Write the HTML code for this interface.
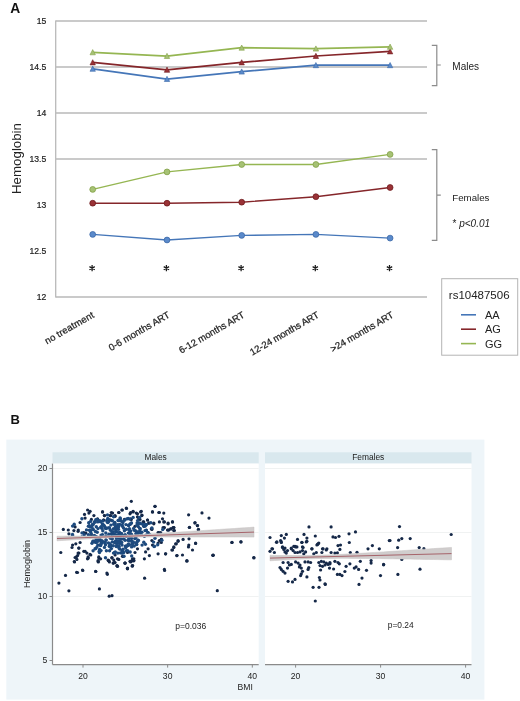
<!DOCTYPE html>
<html><head><meta charset="utf-8"><style>
html,body{margin:0;padding:0;background:#fff;}
svg{display:block;font-family:"Liberation Sans", sans-serif;will-change:transform;}
</style></head><body>
<svg width="520" height="701" viewBox="0 0 520 701">
<line x1="55.7" y1="159.0" x2="427" y2="159.0" stroke="#b9b9b9" stroke-width="1.3"/>
<line x1="55.7" y1="113" x2="427" y2="113" stroke="#b9b9b9" stroke-width="1.3"/>
<line x1="55.7" y1="67.0" x2="427" y2="67.0" stroke="#b9b9b9" stroke-width="1.3"/>
<line x1="55.7" y1="21" x2="427" y2="21" stroke="#b9b9b9" stroke-width="1.3"/>
<line x1="55.7" y1="20.4" x2="55.7" y2="297.6" stroke="#b9b9b9" stroke-width="1.3"/>
<line x1="55.7" y1="297" x2="427" y2="297" stroke="#b9b9b9" stroke-width="1.3"/>
<text x="46.3" y="24.1" text-anchor="end" font-size="8.6" fill="#222" stroke="#222" stroke-width="0.2">15</text>
<text x="46.3" y="70.1" text-anchor="end" font-size="8.6" fill="#222" stroke="#222" stroke-width="0.2">14.5</text>
<text x="46.3" y="116.1" text-anchor="end" font-size="8.6" fill="#222" stroke="#222" stroke-width="0.2">14</text>
<text x="46.3" y="162.1" text-anchor="end" font-size="8.6" fill="#222" stroke="#222" stroke-width="0.2">13.5</text>
<text x="46.3" y="208.1" text-anchor="end" font-size="8.6" fill="#222" stroke="#222" stroke-width="0.2">13</text>
<text x="46.3" y="254.1" text-anchor="end" font-size="8.6" fill="#222" stroke="#222" stroke-width="0.2">12.5</text>
<text x="46.3" y="300.1" text-anchor="end" font-size="8.6" fill="#222" stroke="#222" stroke-width="0.2">12</text>
<polyline points="92.7,68.8 167.0,79.0 241.7,71.6 315.9,65.2 390.1,65.2" fill="none" stroke="#4576b8" stroke-width="1.75"/>
<path d="M92.7,66.1 L95.4,71.3 L90.0,71.3Z" fill="#5a8acb" stroke="#3d6aa8" stroke-width="0.6"/>
<path d="M167.0,76.3 L169.7,81.5 L164.3,81.5Z" fill="#5a8acb" stroke="#3d6aa8" stroke-width="0.6"/>
<path d="M241.7,68.9 L244.4,74.1 L239.0,74.1Z" fill="#5a8acb" stroke="#3d6aa8" stroke-width="0.6"/>
<path d="M315.9,62.5 L318.6,67.7 L313.2,67.7Z" fill="#5a8acb" stroke="#3d6aa8" stroke-width="0.6"/>
<path d="M390.1,62.5 L392.8,67.7 L387.4,67.7Z" fill="#5a8acb" stroke="#3d6aa8" stroke-width="0.6"/>
<polyline points="92.7,62.4 167.0,69.8 241.7,62.4 315.9,56.0 390.1,51.4" fill="none" stroke="#85262a" stroke-width="1.75"/>
<path d="M92.7,59.7 L95.4,64.9 L90.0,64.9Z" fill="#9a3236" stroke="#6e1d20" stroke-width="0.6"/>
<path d="M167.0,67.1 L169.7,72.3 L164.3,72.3Z" fill="#9a3236" stroke="#6e1d20" stroke-width="0.6"/>
<path d="M241.7,59.7 L244.4,64.9 L239.0,64.9Z" fill="#9a3236" stroke="#6e1d20" stroke-width="0.6"/>
<path d="M315.9,53.3 L318.6,58.5 L313.2,58.5Z" fill="#9a3236" stroke="#6e1d20" stroke-width="0.6"/>
<path d="M390.1,48.7 L392.8,53.9 L387.4,53.9Z" fill="#9a3236" stroke="#6e1d20" stroke-width="0.6"/>
<polyline points="92.7,52.3 167.0,56.0 241.7,47.7 315.9,48.6 390.1,46.8" fill="none" stroke="#95b652" stroke-width="1.75"/>
<path d="M92.7,49.6 L95.4,54.8 L90.0,54.8Z" fill="#a6c274" stroke="#84a149" stroke-width="0.6"/>
<path d="M167.0,53.3 L169.7,58.5 L164.3,58.5Z" fill="#a6c274" stroke="#84a149" stroke-width="0.6"/>
<path d="M241.7,45.0 L244.4,50.2 L239.0,50.2Z" fill="#a6c274" stroke="#84a149" stroke-width="0.6"/>
<path d="M315.9,45.9 L318.6,51.1 L313.2,51.1Z" fill="#a6c274" stroke="#84a149" stroke-width="0.6"/>
<path d="M390.1,44.1 L392.8,49.3 L387.4,49.3Z" fill="#a6c274" stroke="#84a149" stroke-width="0.6"/>
<polyline points="92.7,234.4 167.0,240.0 241.7,235.4 315.9,234.4 390.1,238.1" fill="none" stroke="#4576b8" stroke-width="1.45"/>
<circle cx="92.7" cy="234.4" r="2.9" fill="#5a8acb" stroke="#3d6aa8" stroke-width="0.8"/>
<circle cx="167.0" cy="240.0" r="2.9" fill="#5a8acb" stroke="#3d6aa8" stroke-width="0.8"/>
<circle cx="241.7" cy="235.4" r="2.9" fill="#5a8acb" stroke="#3d6aa8" stroke-width="0.8"/>
<circle cx="315.9" cy="234.4" r="2.9" fill="#5a8acb" stroke="#3d6aa8" stroke-width="0.8"/>
<circle cx="390.1" cy="238.1" r="2.9" fill="#5a8acb" stroke="#3d6aa8" stroke-width="0.8"/>
<polyline points="92.7,203.2 167.0,203.2 241.7,202.2 315.9,196.7 390.1,187.5" fill="none" stroke="#85262a" stroke-width="1.45"/>
<circle cx="92.7" cy="203.2" r="2.9" fill="#9a3236" stroke="#6e1d20" stroke-width="0.8"/>
<circle cx="167.0" cy="203.2" r="2.9" fill="#9a3236" stroke="#6e1d20" stroke-width="0.8"/>
<circle cx="241.7" cy="202.2" r="2.9" fill="#9a3236" stroke="#6e1d20" stroke-width="0.8"/>
<circle cx="315.9" cy="196.7" r="2.9" fill="#9a3236" stroke="#6e1d20" stroke-width="0.8"/>
<circle cx="390.1" cy="187.5" r="2.9" fill="#9a3236" stroke="#6e1d20" stroke-width="0.8"/>
<polyline points="92.7,189.4 167.0,171.9 241.7,164.5 315.9,164.5 390.1,154.4" fill="none" stroke="#95b652" stroke-width="1.45"/>
<circle cx="92.7" cy="189.4" r="2.9" fill="#a6c274" stroke="#84a149" stroke-width="0.8"/>
<circle cx="167.0" cy="171.9" r="2.9" fill="#a6c274" stroke="#84a149" stroke-width="0.8"/>
<circle cx="241.7" cy="164.5" r="2.9" fill="#a6c274" stroke="#84a149" stroke-width="0.8"/>
<circle cx="315.9" cy="164.5" r="2.9" fill="#a6c274" stroke="#84a149" stroke-width="0.8"/>
<circle cx="390.1" cy="154.4" r="2.9" fill="#a6c274" stroke="#84a149" stroke-width="0.8"/>
<path d="M92.10000000000001,265.09999999999997 V271.3 M89.42,266.65 L94.78,269.75 M94.78,266.65 L89.42,269.75 " stroke="#1a1a1a" stroke-width="1.25" fill="none"/>
<path d="M166.4,265.09999999999997 V271.3 M163.72,266.65 L169.08,269.75 M169.08,266.65 L163.72,269.75 " stroke="#1a1a1a" stroke-width="1.25" fill="none"/>
<path d="M241.1,265.09999999999997 V271.3 M238.42,266.65 L243.78,269.75 M243.78,266.65 L238.42,269.75 " stroke="#1a1a1a" stroke-width="1.25" fill="none"/>
<path d="M315.29999999999995,265.09999999999997 V271.3 M312.62,266.65 L317.98,269.75 M317.98,266.65 L312.62,269.75 " stroke="#1a1a1a" stroke-width="1.25" fill="none"/>
<path d="M389.5,265.09999999999997 V271.3 M386.82,266.65 L392.18,269.75 M392.18,266.65 L386.82,269.75 " stroke="#1a1a1a" stroke-width="1.25" fill="none"/>
<text transform="translate(94.9,316.8) rotate(-30)" text-anchor="end" font-size="9.55" letter-spacing="0.15" fill="#1e1e1e" stroke="#1e1e1e" stroke-width="0.25">no treatment</text>
<text transform="translate(170.6,316.8) rotate(-30)" text-anchor="end" font-size="9.55" letter-spacing="0" fill="#1e1e1e" stroke="#1e1e1e" stroke-width="0.25">0-6 months ART</text>
<text transform="translate(245.39999999999998,316.8) rotate(-30)" text-anchor="end" font-size="9.55" letter-spacing="0" fill="#1e1e1e" stroke="#1e1e1e" stroke-width="0.25">6-12 months ART</text>
<text transform="translate(319.7,316.8) rotate(-30)" text-anchor="end" font-size="9.55" letter-spacing="-0.1" fill="#1e1e1e" stroke="#1e1e1e" stroke-width="0.25">12-24 months ART</text>
<text transform="translate(394.40000000000003,316.8) rotate(-30)" text-anchor="end" font-size="9.55" letter-spacing="0" fill="#1e1e1e" stroke="#1e1e1e" stroke-width="0.25">&gt;24 months ART</text>
<text transform="translate(20.6,158.5) rotate(-90)" text-anchor="middle" font-size="13.3" fill="#222">Hemoglobin</text>
<text x="10.3" y="12.7" font-size="13.8" font-weight="bold" fill="#111">A</text>
<path d="M431.8,45.3 H436.8 V85.6 H431.8 M436.8,65 H440.8" fill="none" stroke="#8c8c8c" stroke-width="1.2"/>
<path d="M431.8,149.6 H436.8 V240.4 H431.8 M436.8,195.2 H440.8" fill="none" stroke="#8c8c8c" stroke-width="1.2"/>
<text x="452.3" y="69.8" font-size="10" fill="#222">Males</text>
<text x="452.3" y="200.6" font-size="9.7" fill="#222">Females</text>
<text x="452.5" y="226.8" font-size="10" fill="#222">* <tspan font-style="italic">p&lt;0.01</tspan></text>
<rect x="441.7" y="278.7" width="76" height="76.5" fill="#fff" stroke="#b4b4b4" stroke-width="1"/>
<text x="448.8" y="299.3" font-size="11.5" fill="#222">rs10487506</text>
<line x1="461" y1="314.8" x2="476" y2="314.8" stroke="#4576b8" stroke-width="1.6"/>
<text x="485" y="318.7" font-size="11" fill="#222">AA</text>
<line x1="461" y1="329.2" x2="476" y2="329.2" stroke="#85262a" stroke-width="1.6"/>
<text x="485" y="333.09999999999997" font-size="11" fill="#222">AG</text>
<line x1="461" y1="343.6" x2="476" y2="343.6" stroke="#95b652" stroke-width="1.6"/>
<text x="485" y="347.5" font-size="11" fill="#222">GG</text>
<text x="10.5" y="424" font-size="13" font-weight="bold" fill="#111">B</text>
<rect x="6.3" y="439.6" width="478.1" height="260" fill="#eef5f9"/>
<rect x="52.5" y="452.3" width="206.2" height="11.2" fill="#d9e8ee"/>
<rect x="52.5" y="463.6" width="206.2" height="201.0" fill="#fff"/>
<line x1="52.5" y1="596.5" x2="258.7" y2="596.5" stroke="#f0f2f2" stroke-width="1"/>
<line x1="52.5" y1="532.5" x2="258.7" y2="532.5" stroke="#f0f2f2" stroke-width="1"/>
<line x1="52.5" y1="468.5" x2="258.7" y2="468.5" stroke="#f0f2f2" stroke-width="1"/>
<text x="155.6" y="460" text-anchor="middle" font-size="8.4" fill="#222">Males</text>
<line x1="52.5" y1="664.6" x2="258.7" y2="664.6" stroke="#8a8a8a" stroke-width="1.2"/>
<rect x="265.0" y="452.3" width="206.5" height="11.2" fill="#d9e8ee"/>
<rect x="265.0" y="463.6" width="206.5" height="201.0" fill="#fff"/>
<line x1="265.0" y1="596.5" x2="471.5" y2="596.5" stroke="#f0f2f2" stroke-width="1"/>
<line x1="265.0" y1="532.5" x2="471.5" y2="532.5" stroke="#f0f2f2" stroke-width="1"/>
<line x1="265.0" y1="468.5" x2="471.5" y2="468.5" stroke="#f0f2f2" stroke-width="1"/>
<text x="368.25" y="460" text-anchor="middle" font-size="8.4" fill="#222">Females</text>
<line x1="265.0" y1="664.6" x2="471.5" y2="664.6" stroke="#8a8a8a" stroke-width="1.2"/>
<line x1="52.5" y1="463.6" x2="52.5" y2="664.6" stroke="#8a8a8a" stroke-width="1.2"/>
<line x1="49.5" y1="660.5" x2="52.5" y2="660.5" stroke="#8a8a8a" stroke-width="1"/>
<text x="47.2" y="663.4" text-anchor="end" font-size="8.6" fill="#222">5</text>
<line x1="49.5" y1="596.5" x2="52.5" y2="596.5" stroke="#8a8a8a" stroke-width="1"/>
<text x="47.2" y="599.4" text-anchor="end" font-size="8.6" fill="#222">10</text>
<line x1="49.5" y1="532.5" x2="52.5" y2="532.5" stroke="#8a8a8a" stroke-width="1"/>
<text x="47.2" y="535.4" text-anchor="end" font-size="8.6" fill="#222">15</text>
<line x1="49.5" y1="468.5" x2="52.5" y2="468.5" stroke="#8a8a8a" stroke-width="1"/>
<text x="47.2" y="471.4" text-anchor="end" font-size="8.6" fill="#222">20</text>
<text transform="translate(29.6,564) rotate(-90)" text-anchor="middle" font-size="9" fill="#222">Hemoglobin</text>
<line x1="83.0" y1="664.6" x2="83.0" y2="667.6" stroke="#8a8a8a" stroke-width="1"/>
<text x="83.0" y="678.6" text-anchor="middle" font-size="8.6" fill="#222">20</text>
<line x1="167.65" y1="664.6" x2="167.65" y2="667.6" stroke="#8a8a8a" stroke-width="1"/>
<text x="167.65" y="678.6" text-anchor="middle" font-size="8.6" fill="#222">30</text>
<line x1="252.3" y1="664.6" x2="252.3" y2="667.6" stroke="#8a8a8a" stroke-width="1"/>
<text x="252.3" y="678.6" text-anchor="middle" font-size="8.6" fill="#222">40</text>
<line x1="295.6" y1="664.6" x2="295.6" y2="667.6" stroke="#8a8a8a" stroke-width="1"/>
<text x="295.6" y="678.6" text-anchor="middle" font-size="8.6" fill="#222">20</text>
<line x1="380.6" y1="664.6" x2="380.6" y2="667.6" stroke="#8a8a8a" stroke-width="1"/>
<text x="380.6" y="678.6" text-anchor="middle" font-size="8.6" fill="#222">30</text>
<line x1="465.6" y1="664.6" x2="465.6" y2="667.6" stroke="#8a8a8a" stroke-width="1"/>
<text x="465.6" y="678.6" text-anchor="middle" font-size="8.6" fill="#222">40</text>
<text x="245.2" y="689.6" text-anchor="middle" font-size="8.6" fill="#222">BMI</text>
<text x="175.3" y="628.5" font-size="8.5" fill="#222">p=0.036</text>
<text x="387.8" y="628.2" font-size="8.4" fill="#222">p=0.24</text>
<circle cx="131.3" cy="501.3" r="1.6" fill="#152848"/>
<circle cx="155.0" cy="506.3" r="1.6" fill="#152848"/>
<circle cx="118.8" cy="512.5" r="1.6" fill="#152848"/>
<circle cx="122.3" cy="510.0" r="1.6" fill="#152848"/>
<circle cx="126.5" cy="508.5" r="1.6" fill="#152848"/>
<circle cx="130.0" cy="513.8" r="1.6" fill="#152848"/>
<circle cx="133.1" cy="511.9" r="1.6" fill="#152848"/>
<circle cx="136.3" cy="513.1" r="1.6" fill="#152848"/>
<circle cx="140.6" cy="511.9" r="1.6" fill="#152848"/>
<circle cx="141.9" cy="515.0" r="1.6" fill="#152848"/>
<circle cx="152.5" cy="511.9" r="1.6" fill="#152848"/>
<circle cx="159.4" cy="512.5" r="1.6" fill="#152848"/>
<circle cx="163.8" cy="513.1" r="1.6" fill="#152848"/>
<circle cx="137.5" cy="516.9" r="1.6" fill="#152848"/>
<circle cx="140.0" cy="519.4" r="1.6" fill="#152848"/>
<circle cx="131.3" cy="519.4" r="1.6" fill="#152848"/>
<circle cx="124.4" cy="519.4" r="1.6" fill="#152848"/>
<circle cx="147.5" cy="520.0" r="1.6" fill="#152848"/>
<circle cx="162.5" cy="518.8" r="1.6" fill="#152848"/>
<circle cx="159.4" cy="521.9" r="1.6" fill="#152848"/>
<circle cx="153.8" cy="523.1" r="1.6" fill="#152848"/>
<circle cx="148.8" cy="523.1" r="1.6" fill="#152848"/>
<circle cx="164.4" cy="521.9" r="1.6" fill="#152848"/>
<circle cx="168.1" cy="523.1" r="1.6" fill="#152848"/>
<circle cx="172.5" cy="521.9" r="1.6" fill="#152848"/>
<circle cx="143.8" cy="521.9" r="1.6" fill="#152848"/>
<circle cx="131.3" cy="523.1" r="1.6" fill="#152848"/>
<circle cx="135.0" cy="526.3" r="1.6" fill="#152848"/>
<circle cx="143.8" cy="526.3" r="1.6" fill="#152848"/>
<circle cx="151.3" cy="528.8" r="1.6" fill="#152848"/>
<circle cx="146.3" cy="530.0" r="1.6" fill="#152848"/>
<circle cx="164.4" cy="527.5" r="1.6" fill="#152848"/>
<circle cx="167.5" cy="530.0" r="1.6" fill="#152848"/>
<circle cx="170.6" cy="528.8" r="1.6" fill="#152848"/>
<circle cx="173.8" cy="527.5" r="1.6" fill="#152848"/>
<circle cx="158.8" cy="532.5" r="1.6" fill="#152848"/>
<circle cx="87.6" cy="510.0" r="1.6" fill="#152848"/>
<circle cx="90.1" cy="511.3" r="1.6" fill="#152848"/>
<circle cx="88.9" cy="513.1" r="1.6" fill="#152848"/>
<circle cx="84.5" cy="514.4" r="1.6" fill="#152848"/>
<circle cx="102.6" cy="511.9" r="1.6" fill="#152848"/>
<circle cx="112.6" cy="513.1" r="1.6" fill="#152848"/>
<circle cx="93.9" cy="515.6" r="1.6" fill="#152848"/>
<circle cx="104.5" cy="515.6" r="1.6" fill="#152848"/>
<circle cx="110.8" cy="515.6" r="1.6" fill="#152848"/>
<circle cx="85.1" cy="518.1" r="1.6" fill="#152848"/>
<circle cx="91.4" cy="519.4" r="1.6" fill="#152848"/>
<circle cx="97.6" cy="519.4" r="1.6" fill="#152848"/>
<circle cx="103.3" cy="520.0" r="1.6" fill="#152848"/>
<circle cx="110.8" cy="520.0" r="1.6" fill="#152848"/>
<circle cx="115.1" cy="516.3" r="1.6" fill="#152848"/>
<circle cx="80.1" cy="522.5" r="1.6" fill="#152848"/>
<circle cx="75.1" cy="526.9" r="1.6" fill="#152848"/>
<circle cx="63.3" cy="529.4" r="1.6" fill="#152848"/>
<circle cx="68.3" cy="530.0" r="1.6" fill="#152848"/>
<circle cx="73.9" cy="530.6" r="1.6" fill="#152848"/>
<circle cx="78.3" cy="530.0" r="1.6" fill="#152848"/>
<circle cx="68.9" cy="533.8" r="1.6" fill="#152848"/>
<circle cx="188.6" cy="514.8" r="1.6" fill="#152848"/>
<circle cx="202.0" cy="512.9" r="1.6" fill="#152848"/>
<circle cx="209.0" cy="518.1" r="1.6" fill="#152848"/>
<circle cx="194.9" cy="523.1" r="1.6" fill="#152848"/>
<circle cx="197.4" cy="525.6" r="1.6" fill="#152848"/>
<circle cx="189.5" cy="527.3" r="1.6" fill="#152848"/>
<circle cx="198.3" cy="529.8" r="1.6" fill="#152848"/>
<circle cx="253.8" cy="557.5" r="1.6" fill="#152848"/>
<circle cx="213.1" cy="555.3" r="1.6" fill="#152848"/>
<circle cx="231.9" cy="542.5" r="1.6" fill="#152848"/>
<circle cx="241.0" cy="541.9" r="1.6" fill="#152848"/>
<circle cx="195.6" cy="543.5" r="1.6" fill="#152848"/>
<circle cx="85.8" cy="533.1" r="1.6" fill="#152848"/>
<circle cx="90.8" cy="535.6" r="1.6" fill="#152848"/>
<circle cx="72.6" cy="545.0" r="1.6" fill="#152848"/>
<circle cx="72.0" cy="547.5" r="1.6" fill="#152848"/>
<circle cx="75.8" cy="543.8" r="1.6" fill="#152848"/>
<circle cx="60.8" cy="552.5" r="1.6" fill="#152848"/>
<circle cx="78.9" cy="548.1" r="1.6" fill="#152848"/>
<circle cx="80.1" cy="542.5" r="1.6" fill="#152848"/>
<circle cx="85.1" cy="551.3" r="1.6" fill="#152848"/>
<circle cx="78.9" cy="553.1" r="1.6" fill="#152848"/>
<circle cx="75.1" cy="557.5" r="1.6" fill="#152848"/>
<circle cx="77.6" cy="555.6" r="1.6" fill="#152848"/>
<circle cx="74.5" cy="561.9" r="1.6" fill="#152848"/>
<circle cx="88.3" cy="558.1" r="1.6" fill="#152848"/>
<circle cx="90.8" cy="555.0" r="1.6" fill="#152848"/>
<circle cx="98.9" cy="558.1" r="1.6" fill="#152848"/>
<circle cx="98.3" cy="561.9" r="1.6" fill="#152848"/>
<circle cx="108.3" cy="560.6" r="1.6" fill="#152848"/>
<circle cx="112.0" cy="558.1" r="1.6" fill="#152848"/>
<circle cx="114.5" cy="562.5" r="1.6" fill="#152848"/>
<circle cx="115.1" cy="555.0" r="1.6" fill="#152848"/>
<circle cx="151.9" cy="528.8" r="1.6" fill="#152848"/>
<circle cx="148.1" cy="532.5" r="1.6" fill="#152848"/>
<circle cx="158.1" cy="532.5" r="1.6" fill="#152848"/>
<circle cx="163.1" cy="527.5" r="1.6" fill="#152848"/>
<circle cx="168.8" cy="530.0" r="1.6" fill="#152848"/>
<circle cx="173.1" cy="527.5" r="1.6" fill="#152848"/>
<circle cx="173.8" cy="530.6" r="1.6" fill="#152848"/>
<circle cx="159.4" cy="540.6" r="1.6" fill="#152848"/>
<circle cx="161.3" cy="539.4" r="1.6" fill="#152848"/>
<circle cx="158.1" cy="543.1" r="1.6" fill="#152848"/>
<circle cx="151.9" cy="540.6" r="1.6" fill="#152848"/>
<circle cx="152.5" cy="545.0" r="1.6" fill="#152848"/>
<circle cx="178.1" cy="540.6" r="1.6" fill="#152848"/>
<circle cx="176.3" cy="543.8" r="1.6" fill="#152848"/>
<circle cx="173.8" cy="547.5" r="1.6" fill="#152848"/>
<circle cx="171.9" cy="550.0" r="1.6" fill="#152848"/>
<circle cx="148.1" cy="548.8" r="1.6" fill="#152848"/>
<circle cx="145.6" cy="551.9" r="1.6" fill="#152848"/>
<circle cx="149.4" cy="555.6" r="1.6" fill="#152848"/>
<circle cx="158.1" cy="553.8" r="1.6" fill="#152848"/>
<circle cx="165.6" cy="553.8" r="1.6" fill="#152848"/>
<circle cx="176.9" cy="555.6" r="1.6" fill="#152848"/>
<circle cx="144.4" cy="558.8" r="1.6" fill="#152848"/>
<circle cx="133.8" cy="558.8" r="1.6" fill="#152848"/>
<circle cx="131.9" cy="560.6" r="1.6" fill="#152848"/>
<circle cx="130.6" cy="561.9" r="1.6" fill="#152848"/>
<circle cx="127.5" cy="552.5" r="1.6" fill="#152848"/>
<circle cx="122.5" cy="556.3" r="1.6" fill="#152848"/>
<circle cx="117.5" cy="558.8" r="1.6" fill="#152848"/>
<circle cx="125.0" cy="563.1" r="1.6" fill="#152848"/>
<circle cx="132.5" cy="565.6" r="1.6" fill="#152848"/>
<circle cx="127.5" cy="568.1" r="1.6" fill="#152848"/>
<circle cx="116.9" cy="565.6" r="1.6" fill="#152848"/>
<circle cx="164.4" cy="569.4" r="1.6" fill="#152848"/>
<circle cx="163.8" cy="521.9" r="1.6" fill="#152848"/>
<circle cx="168.1" cy="523.8" r="1.6" fill="#152848"/>
<circle cx="172.5" cy="521.9" r="1.6" fill="#152848"/>
<circle cx="163.8" cy="528.1" r="1.6" fill="#152848"/>
<circle cx="168.1" cy="530.0" r="1.6" fill="#152848"/>
<circle cx="171.3" cy="528.8" r="1.6" fill="#152848"/>
<circle cx="173.8" cy="527.5" r="1.6" fill="#152848"/>
<circle cx="174.4" cy="530.6" r="1.6" fill="#152848"/>
<circle cx="189.4" cy="527.5" r="1.6" fill="#152848"/>
<circle cx="195.0" cy="522.5" r="1.6" fill="#152848"/>
<circle cx="197.5" cy="525.6" r="1.6" fill="#152848"/>
<circle cx="198.5" cy="529.4" r="1.6" fill="#152848"/>
<circle cx="160.6" cy="532.5" r="1.6" fill="#152848"/>
<circle cx="161.3" cy="539.4" r="1.6" fill="#152848"/>
<circle cx="161.3" cy="542.5" r="1.6" fill="#152848"/>
<circle cx="183.1" cy="539.4" r="1.6" fill="#152848"/>
<circle cx="189.0" cy="538.8" r="1.6" fill="#152848"/>
<circle cx="178.1" cy="541.3" r="1.6" fill="#152848"/>
<circle cx="175.6" cy="543.8" r="1.6" fill="#152848"/>
<circle cx="195.6" cy="543.1" r="1.6" fill="#152848"/>
<circle cx="188.8" cy="545.0" r="1.6" fill="#152848"/>
<circle cx="188.5" cy="546.9" r="1.6" fill="#152848"/>
<circle cx="173.8" cy="546.9" r="1.6" fill="#152848"/>
<circle cx="172.5" cy="550.0" r="1.6" fill="#152848"/>
<circle cx="192.5" cy="550.0" r="1.6" fill="#152848"/>
<circle cx="165.6" cy="553.8" r="1.6" fill="#152848"/>
<circle cx="176.9" cy="555.6" r="1.6" fill="#152848"/>
<circle cx="182.5" cy="555.0" r="1.6" fill="#152848"/>
<circle cx="186.9" cy="560.6" r="1.6" fill="#152848"/>
<circle cx="213.1" cy="555.0" r="1.6" fill="#152848"/>
<circle cx="74.3" cy="561.5" r="1.6" fill="#152848"/>
<circle cx="98.2" cy="561.5" r="1.6" fill="#152848"/>
<circle cx="108.9" cy="560.8" r="1.6" fill="#152848"/>
<circle cx="113.5" cy="563.1" r="1.6" fill="#152848"/>
<circle cx="117.4" cy="566.2" r="1.6" fill="#152848"/>
<circle cx="125.1" cy="563.1" r="1.6" fill="#152848"/>
<circle cx="127.4" cy="568.5" r="1.6" fill="#152848"/>
<circle cx="131.2" cy="561.5" r="1.6" fill="#152848"/>
<circle cx="65.5" cy="575.4" r="1.6" fill="#152848"/>
<circle cx="76.6" cy="572.3" r="1.6" fill="#152848"/>
<circle cx="82.8" cy="570.5" r="1.6" fill="#152848"/>
<circle cx="95.8" cy="571.5" r="1.6" fill="#152848"/>
<circle cx="107.4" cy="574.3" r="1.6" fill="#152848"/>
<circle cx="58.9" cy="583.1" r="1.6" fill="#152848"/>
<circle cx="68.9" cy="590.8" r="1.6" fill="#152848"/>
<circle cx="99.4" cy="588.9" r="1.6" fill="#152848"/>
<circle cx="109.2" cy="596.2" r="1.6" fill="#152848"/>
<circle cx="112.0" cy="595.7" r="1.6" fill="#152848"/>
<circle cx="132.3" cy="566.2" r="1.6" fill="#152848"/>
<circle cx="133.8" cy="560.8" r="1.6" fill="#152848"/>
<circle cx="164.6" cy="570.5" r="1.6" fill="#152848"/>
<circle cx="144.6" cy="578.2" r="1.6" fill="#152848"/>
<circle cx="186.9" cy="561.2" r="1.6" fill="#152848"/>
<circle cx="232.0" cy="542.4" r="1.6" fill="#152848"/>
<circle cx="240.9" cy="541.8" r="1.6" fill="#152848"/>
<circle cx="212.9" cy="555.3" r="1.6" fill="#152848"/>
<circle cx="253.9" cy="557.9" r="1.6" fill="#152848"/>
<circle cx="217.3" cy="590.7" r="1.6" fill="#152848"/>
<circle cx="102.5" cy="511.9" r="1.6" fill="#152848"/>
<circle cx="104.4" cy="515.6" r="1.6" fill="#152848"/>
<circle cx="111.3" cy="512.5" r="1.6" fill="#152848"/>
<circle cx="110.0" cy="515.6" r="1.6" fill="#152848"/>
<circle cx="118.8" cy="512.5" r="1.6" fill="#152848"/>
<circle cx="121.9" cy="510.0" r="1.6" fill="#152848"/>
<circle cx="126.3" cy="508.1" r="1.6" fill="#152848"/>
<circle cx="115.0" cy="515.6" r="1.6" fill="#152848"/>
<circle cx="97.5" cy="518.8" r="1.6" fill="#152848"/>
<circle cx="103.8" cy="520.0" r="1.6" fill="#152848"/>
<circle cx="130.6" cy="512.5" r="1.6" fill="#152848"/>
<circle cx="133.1" cy="511.3" r="1.6" fill="#152848"/>
<circle cx="137.5" cy="513.8" r="1.6" fill="#152848"/>
<circle cx="141.3" cy="511.3" r="1.6" fill="#152848"/>
<circle cx="141.9" cy="515.6" r="1.6" fill="#152848"/>
<circle cx="138.8" cy="518.8" r="1.6" fill="#152848"/>
<circle cx="130.6" cy="518.8" r="1.6" fill="#152848"/>
<circle cx="152.5" cy="511.9" r="1.6" fill="#152848"/>
<circle cx="155.0" cy="506.3" r="1.6" fill="#152848"/>
<circle cx="158.8" cy="512.5" r="1.6" fill="#152848"/>
<circle cx="147.5" cy="520.0" r="1.6" fill="#152848"/>
<circle cx="153.8" cy="523.8" r="1.6" fill="#152848"/>
<circle cx="148.8" cy="523.1" r="1.6" fill="#152848"/>
<circle cx="143.1" cy="521.9" r="1.6" fill="#152848"/>
<circle cx="151.9" cy="529.4" r="1.6" fill="#152848"/>
<circle cx="78.8" cy="548.1" r="1.6" fill="#152848"/>
<circle cx="78.1" cy="553.1" r="1.6" fill="#152848"/>
<circle cx="76.3" cy="556.9" r="1.6" fill="#152848"/>
<circle cx="76.9" cy="559.4" r="1.6" fill="#152848"/>
<circle cx="83.8" cy="551.3" r="1.6" fill="#152848"/>
<circle cx="86.9" cy="553.1" r="1.6" fill="#152848"/>
<circle cx="90.0" cy="554.4" r="1.6" fill="#152848"/>
<circle cx="87.5" cy="558.8" r="1.6" fill="#152848"/>
<circle cx="88.1" cy="556.9" r="1.6" fill="#152848"/>
<circle cx="98.8" cy="556.9" r="1.6" fill="#152848"/>
<circle cx="100.6" cy="558.8" r="1.6" fill="#152848"/>
<circle cx="98.1" cy="560.6" r="1.6" fill="#152848"/>
<circle cx="108.1" cy="560.0" r="1.6" fill="#152848"/>
<circle cx="109.4" cy="561.9" r="1.6" fill="#152848"/>
<circle cx="111.9" cy="557.5" r="1.6" fill="#152848"/>
<circle cx="113.8" cy="560.0" r="1.6" fill="#152848"/>
<circle cx="113.1" cy="563.1" r="1.6" fill="#152848"/>
<circle cx="115.0" cy="562.5" r="1.6" fill="#152848"/>
<circle cx="117.5" cy="566.3" r="1.6" fill="#152848"/>
<circle cx="118.8" cy="559.4" r="1.6" fill="#152848"/>
<circle cx="123.1" cy="556.3" r="1.6" fill="#152848"/>
<circle cx="125.0" cy="563.1" r="1.6" fill="#152848"/>
<circle cx="127.5" cy="568.8" r="1.6" fill="#152848"/>
<circle cx="130.0" cy="561.3" r="1.6" fill="#152848"/>
<circle cx="132.5" cy="558.8" r="1.6" fill="#152848"/>
<circle cx="133.8" cy="560.6" r="1.6" fill="#152848"/>
<circle cx="132.5" cy="565.6" r="1.6" fill="#152848"/>
<circle cx="77.5" cy="572.5" r="1.6" fill="#152848"/>
<circle cx="82.5" cy="570.0" r="1.6" fill="#152848"/>
<circle cx="95.6" cy="571.3" r="1.6" fill="#152848"/>
<circle cx="106.9" cy="573.1" r="1.6" fill="#152848"/>
<circle cx="137.5" cy="548.8" r="1.6" fill="#152848"/>
<circle cx="135.0" cy="552.5" r="1.6" fill="#152848"/>
<circle cx="78.1" cy="531.3" r="1.6" fill="#152848"/>
<circle cx="83.8" cy="532.5" r="1.6" fill="#152848"/>
<circle cx="91.3" cy="535.0" r="1.6" fill="#152848"/>
<circle cx="106.8" cy="520.4" r="1.7" fill="#1d4a7e"/>
<circle cx="126.7" cy="518.9" r="1.7" fill="#1d4a7e"/>
<circle cx="119.7" cy="524.4" r="1.7" fill="#1d4a7e"/>
<circle cx="90.5" cy="527.1" r="1.7" fill="#1d4a7e"/>
<circle cx="89.3" cy="525.7" r="1.7" fill="#1d4a7e"/>
<circle cx="112.9" cy="533.2" r="1.7" fill="#1d4a7e"/>
<circle cx="94.6" cy="521.7" r="1.7" fill="#1d4a7e"/>
<circle cx="125.3" cy="535.5" r="1.7" fill="#1d4a7e"/>
<circle cx="122.2" cy="525.0" r="1.7" fill="#1d4a7e"/>
<circle cx="139.4" cy="523.0" r="1.7" fill="#1d4a7e"/>
<circle cx="95.8" cy="519.7" r="1.7" fill="#1d4a7e"/>
<circle cx="105.8" cy="533.0" r="1.7" fill="#1d4a7e"/>
<circle cx="98.0" cy="528.6" r="1.7" fill="#1d4a7e"/>
<circle cx="126.0" cy="524.6" r="1.7" fill="#1d4a7e"/>
<circle cx="120.4" cy="518.7" r="1.7" fill="#1d4a7e"/>
<circle cx="90.6" cy="521.4" r="1.7" fill="#1d4a7e"/>
<circle cx="128.5" cy="525.6" r="1.7" fill="#1d4a7e"/>
<circle cx="106.2" cy="528.6" r="1.7" fill="#1d4a7e"/>
<circle cx="114.6" cy="523.2" r="1.7" fill="#1d4a7e"/>
<circle cx="135.5" cy="530.8" r="1.7" fill="#1d4a7e"/>
<circle cx="101.9" cy="528.4" r="1.7" fill="#1d4a7e"/>
<circle cx="119.0" cy="534.1" r="1.7" fill="#1d4a7e"/>
<circle cx="131.5" cy="523.0" r="1.7" fill="#1d4a7e"/>
<circle cx="112.5" cy="531.9" r="1.7" fill="#1d4a7e"/>
<circle cx="96.3" cy="526.8" r="1.7" fill="#1d4a7e"/>
<circle cx="89.4" cy="530.2" r="1.7" fill="#1d4a7e"/>
<circle cx="133.6" cy="528.4" r="1.7" fill="#1d4a7e"/>
<circle cx="140.4" cy="523.5" r="1.7" fill="#1d4a7e"/>
<circle cx="129.4" cy="528.8" r="1.7" fill="#1d4a7e"/>
<circle cx="122.4" cy="526.2" r="1.7" fill="#1d4a7e"/>
<circle cx="138.2" cy="535.4" r="1.7" fill="#1d4a7e"/>
<circle cx="115.9" cy="530.1" r="1.7" fill="#1d4a7e"/>
<circle cx="90.7" cy="530.8" r="1.7" fill="#1d4a7e"/>
<circle cx="126.5" cy="536.4" r="1.7" fill="#1d4a7e"/>
<circle cx="137.1" cy="522.9" r="1.7" fill="#1d4a7e"/>
<circle cx="110.5" cy="530.2" r="1.7" fill="#1d4a7e"/>
<circle cx="88.4" cy="526.3" r="1.7" fill="#1d4a7e"/>
<circle cx="97.3" cy="519.7" r="1.7" fill="#1d4a7e"/>
<circle cx="90.6" cy="532.1" r="1.7" fill="#1d4a7e"/>
<circle cx="94.9" cy="522.2" r="1.7" fill="#1d4a7e"/>
<circle cx="110.8" cy="534.1" r="1.7" fill="#1d4a7e"/>
<circle cx="91.9" cy="526.0" r="1.7" fill="#1d4a7e"/>
<circle cx="120.5" cy="534.3" r="1.7" fill="#1d4a7e"/>
<circle cx="137.0" cy="533.9" r="1.7" fill="#1d4a7e"/>
<circle cx="104.0" cy="525.4" r="1.7" fill="#1d4a7e"/>
<circle cx="108.9" cy="534.3" r="1.7" fill="#1d4a7e"/>
<circle cx="97.7" cy="521.9" r="1.7" fill="#1d4a7e"/>
<circle cx="101.2" cy="526.7" r="1.7" fill="#1d4a7e"/>
<circle cx="122.9" cy="522.5" r="1.7" fill="#1d4a7e"/>
<circle cx="109.5" cy="528.3" r="1.7" fill="#1d4a7e"/>
<circle cx="145.1" cy="530.6" r="1.7" fill="#1d4a7e"/>
<circle cx="118.4" cy="529.2" r="1.7" fill="#1d4a7e"/>
<circle cx="128.2" cy="518.5" r="1.7" fill="#1d4a7e"/>
<circle cx="141.9" cy="532.3" r="1.7" fill="#1d4a7e"/>
<circle cx="140.3" cy="532.7" r="1.7" fill="#1d4a7e"/>
<circle cx="110.9" cy="525.1" r="1.7" fill="#1d4a7e"/>
<circle cx="93.3" cy="529.6" r="1.7" fill="#1d4a7e"/>
<circle cx="99.7" cy="520.6" r="1.7" fill="#1d4a7e"/>
<circle cx="107.7" cy="518.5" r="1.7" fill="#1d4a7e"/>
<circle cx="93.2" cy="524.4" r="1.7" fill="#1d4a7e"/>
<circle cx="124.5" cy="520.3" r="1.7" fill="#1d4a7e"/>
<circle cx="102.4" cy="524.1" r="1.7" fill="#1d4a7e"/>
<circle cx="109.2" cy="519.8" r="1.7" fill="#1d4a7e"/>
<circle cx="115.4" cy="526.7" r="1.7" fill="#1d4a7e"/>
<circle cx="107.9" cy="522.5" r="1.7" fill="#1d4a7e"/>
<circle cx="137.6" cy="520.6" r="1.7" fill="#1d4a7e"/>
<circle cx="119.2" cy="520.3" r="1.7" fill="#1d4a7e"/>
<circle cx="120.1" cy="518.0" r="1.7" fill="#1d4a7e"/>
<circle cx="119.2" cy="536.1" r="1.7" fill="#1d4a7e"/>
<circle cx="139.7" cy="530.7" r="1.7" fill="#1d4a7e"/>
<circle cx="102.9" cy="524.5" r="1.7" fill="#1d4a7e"/>
<circle cx="97.2" cy="532.2" r="1.7" fill="#1d4a7e"/>
<circle cx="119.5" cy="532.3" r="1.7" fill="#1d4a7e"/>
<circle cx="107.1" cy="521.7" r="1.7" fill="#1d4a7e"/>
<circle cx="139.0" cy="532.8" r="1.7" fill="#1d4a7e"/>
<circle cx="136.9" cy="531.6" r="1.7" fill="#1d4a7e"/>
<circle cx="100.8" cy="527.3" r="1.7" fill="#1d4a7e"/>
<circle cx="88.7" cy="522.8" r="1.7" fill="#1d4a7e"/>
<circle cx="102.8" cy="530.7" r="1.7" fill="#1d4a7e"/>
<circle cx="145.3" cy="526.0" r="1.7" fill="#1d4a7e"/>
<circle cx="145.3" cy="524.4" r="1.7" fill="#1d4a7e"/>
<circle cx="100.4" cy="521.8" r="1.7" fill="#1d4a7e"/>
<circle cx="99.0" cy="521.4" r="1.7" fill="#1d4a7e"/>
<circle cx="125.1" cy="534.6" r="1.7" fill="#1d4a7e"/>
<circle cx="138.3" cy="526.6" r="1.7" fill="#1d4a7e"/>
<circle cx="127.6" cy="550.8" r="1.7" fill="#1d4a7e"/>
<circle cx="95.7" cy="548.6" r="1.7" fill="#1d4a7e"/>
<circle cx="133.0" cy="545.6" r="1.7" fill="#1d4a7e"/>
<circle cx="101.0" cy="550.6" r="1.7" fill="#1d4a7e"/>
<circle cx="109.6" cy="550.8" r="1.7" fill="#1d4a7e"/>
<circle cx="145.4" cy="544.3" r="1.7" fill="#1d4a7e"/>
<circle cx="113.5" cy="553.1" r="1.7" fill="#1d4a7e"/>
<circle cx="131.6" cy="540.7" r="1.7" fill="#1d4a7e"/>
<circle cx="98.1" cy="540.4" r="1.7" fill="#1d4a7e"/>
<circle cx="99.2" cy="551.2" r="1.7" fill="#1d4a7e"/>
<circle cx="110.6" cy="546.8" r="1.7" fill="#1d4a7e"/>
<circle cx="98.3" cy="538.2" r="1.7" fill="#1d4a7e"/>
<circle cx="120.5" cy="552.9" r="1.7" fill="#1d4a7e"/>
<circle cx="115.3" cy="551.9" r="1.7" fill="#1d4a7e"/>
<circle cx="137.3" cy="541.4" r="1.7" fill="#1d4a7e"/>
<circle cx="105.1" cy="542.7" r="1.7" fill="#1d4a7e"/>
<circle cx="104.5" cy="547.4" r="1.7" fill="#1d4a7e"/>
<circle cx="105.5" cy="544.7" r="1.7" fill="#1d4a7e"/>
<circle cx="110.8" cy="545.3" r="1.7" fill="#1d4a7e"/>
<circle cx="123.7" cy="552.5" r="1.7" fill="#1d4a7e"/>
<circle cx="114.6" cy="552.7" r="1.7" fill="#1d4a7e"/>
<circle cx="119.1" cy="546.5" r="1.7" fill="#1d4a7e"/>
<circle cx="120.3" cy="538.3" r="1.7" fill="#1d4a7e"/>
<circle cx="115.6" cy="540.9" r="1.7" fill="#1d4a7e"/>
<circle cx="100.7" cy="545.6" r="1.7" fill="#1d4a7e"/>
<circle cx="131.6" cy="546.9" r="1.7" fill="#1d4a7e"/>
<circle cx="109.3" cy="546.3" r="1.7" fill="#1d4a7e"/>
<circle cx="122.1" cy="550.5" r="1.7" fill="#1d4a7e"/>
<circle cx="96.9" cy="547.0" r="1.7" fill="#1d4a7e"/>
<circle cx="104.9" cy="542.4" r="1.7" fill="#1d4a7e"/>
<circle cx="134.2" cy="546.1" r="1.7" fill="#1d4a7e"/>
<circle cx="122.5" cy="550.2" r="1.7" fill="#1d4a7e"/>
<circle cx="142.1" cy="545.1" r="1.7" fill="#1d4a7e"/>
<circle cx="125.3" cy="546.1" r="1.7" fill="#1d4a7e"/>
<circle cx="119.7" cy="549.1" r="1.7" fill="#1d4a7e"/>
<circle cx="116.3" cy="546.5" r="1.7" fill="#1d4a7e"/>
<circle cx="117.8" cy="553.1" r="1.7" fill="#1d4a7e"/>
<circle cx="130.2" cy="552.0" r="1.7" fill="#1d4a7e"/>
<circle cx="143.8" cy="542.2" r="1.7" fill="#1d4a7e"/>
<circle cx="122.3" cy="553.1" r="1.7" fill="#1d4a7e"/>
<circle cx="138.0" cy="540.2" r="1.7" fill="#1d4a7e"/>
<circle cx="97.8" cy="545.1" r="1.7" fill="#1d4a7e"/>
<circle cx="95.1" cy="541.9" r="1.7" fill="#1d4a7e"/>
<circle cx="95.1" cy="548.7" r="1.7" fill="#1d4a7e"/>
<circle cx="99.6" cy="549.5" r="1.7" fill="#1d4a7e"/>
<circle cx="128.0" cy="540.3" r="1.7" fill="#1d4a7e"/>
<circle cx="113.3" cy="545.8" r="1.7" fill="#1d4a7e"/>
<circle cx="100.0" cy="544.9" r="1.7" fill="#1d4a7e"/>
<circle cx="119.9" cy="543.4" r="1.7" fill="#1d4a7e"/>
<circle cx="102.0" cy="543.1" r="1.7" fill="#1d4a7e"/>
<circle cx="131.4" cy="538.3" r="1.7" fill="#1d4a7e"/>
<circle cx="122.0" cy="545.0" r="1.7" fill="#1d4a7e"/>
<circle cx="92.0" cy="543.3" r="1.7" fill="#1d4a7e"/>
<circle cx="125.9" cy="546.2" r="1.7" fill="#1d4a7e"/>
<circle cx="96.9" cy="542.2" r="1.7" fill="#1d4a7e"/>
<circle cx="106.1" cy="540.1" r="1.7" fill="#1d4a7e"/>
<circle cx="114.6" cy="552.6" r="1.7" fill="#1d4a7e"/>
<circle cx="136.9" cy="542.1" r="1.7" fill="#1d4a7e"/>
<circle cx="123.0" cy="549.2" r="1.7" fill="#1d4a7e"/>
<circle cx="96.0" cy="538.9" r="1.7" fill="#1d4a7e"/>
<circle cx="129.5" cy="544.8" r="1.7" fill="#1d4a7e"/>
<circle cx="126.5" cy="550.8" r="1.7" fill="#1d4a7e"/>
<circle cx="116.4" cy="543.4" r="1.7" fill="#1d4a7e"/>
<circle cx="122.0" cy="552.8" r="1.7" fill="#1d4a7e"/>
<circle cx="106.0" cy="540.1" r="1.7" fill="#1d4a7e"/>
<circle cx="120.5" cy="541.8" r="1.7" fill="#1d4a7e"/>
<circle cx="97.1" cy="540.6" r="1.7" fill="#1d4a7e"/>
<circle cx="93.8" cy="541.2" r="1.7" fill="#1d4a7e"/>
<circle cx="108.5" cy="542.9" r="1.7" fill="#1d4a7e"/>
<circle cx="133.5" cy="542.6" r="1.7" fill="#1d4a7e"/>
<circle cx="119.0" cy="540.8" r="1.7" fill="#1d4a7e"/>
<circle cx="110.4" cy="538.3" r="1.7" fill="#1d4a7e"/>
<circle cx="118.0" cy="536.8" r="1.7" fill="#1d4a7e"/>
<circle cx="114.8" cy="522.4" r="1.7" fill="#1d4a7e"/>
<circle cx="128.1" cy="545.5" r="1.7" fill="#1d4a7e"/>
<circle cx="128.4" cy="533.1" r="1.7" fill="#1d4a7e"/>
<circle cx="128.7" cy="525.3" r="1.7" fill="#1d4a7e"/>
<circle cx="72.5" cy="535.6" r="1.7" fill="#1d4a7e"/>
<circle cx="95.7" cy="542.4" r="1.7" fill="#1d4a7e"/>
<circle cx="93.1" cy="550.8" r="1.7" fill="#1d4a7e"/>
<circle cx="108.8" cy="521.3" r="1.7" fill="#1d4a7e"/>
<circle cx="99.7" cy="540.2" r="1.7" fill="#1d4a7e"/>
<circle cx="129.9" cy="536.8" r="1.7" fill="#1d4a7e"/>
<circle cx="153.6" cy="542.1" r="1.7" fill="#1d4a7e"/>
<circle cx="117.5" cy="541.0" r="1.7" fill="#1d4a7e"/>
<circle cx="157.7" cy="544.7" r="1.7" fill="#1d4a7e"/>
<circle cx="142.6" cy="524.2" r="1.7" fill="#1d4a7e"/>
<circle cx="114.4" cy="542.3" r="1.7" fill="#1d4a7e"/>
<circle cx="110.9" cy="545.7" r="1.7" fill="#1d4a7e"/>
<circle cx="132.3" cy="544.1" r="1.7" fill="#1d4a7e"/>
<circle cx="147.8" cy="532.8" r="1.7" fill="#1d4a7e"/>
<circle cx="109.8" cy="543.7" r="1.7" fill="#1d4a7e"/>
<circle cx="141.5" cy="535.1" r="1.7" fill="#1d4a7e"/>
<circle cx="90.0" cy="536.9" r="1.7" fill="#1d4a7e"/>
<circle cx="126.6" cy="546.3" r="1.7" fill="#1d4a7e"/>
<circle cx="136.8" cy="535.2" r="1.7" fill="#1d4a7e"/>
<circle cx="138.5" cy="540.4" r="1.7" fill="#1d4a7e"/>
<circle cx="122.9" cy="535.6" r="1.7" fill="#1d4a7e"/>
<circle cx="112.2" cy="541.9" r="1.7" fill="#1d4a7e"/>
<circle cx="92.7" cy="528.7" r="1.7" fill="#1d4a7e"/>
<circle cx="118.1" cy="520.4" r="1.7" fill="#1d4a7e"/>
<circle cx="107.5" cy="514.9" r="1.7" fill="#1d4a7e"/>
<circle cx="101.6" cy="540.7" r="1.7" fill="#1d4a7e"/>
<circle cx="131.6" cy="534.5" r="1.7" fill="#1d4a7e"/>
<circle cx="112.4" cy="520.8" r="1.7" fill="#1d4a7e"/>
<circle cx="161.9" cy="540.2" r="1.7" fill="#1d4a7e"/>
<circle cx="144.2" cy="526.2" r="1.7" fill="#1d4a7e"/>
<circle cx="113.6" cy="516.8" r="1.7" fill="#1d4a7e"/>
<circle cx="136.7" cy="544.4" r="1.7" fill="#1d4a7e"/>
<circle cx="72.5" cy="534.5" r="1.7" fill="#1d4a7e"/>
<circle cx="133.1" cy="517.4" r="1.7" fill="#1d4a7e"/>
<circle cx="74.2" cy="524.3" r="1.7" fill="#1d4a7e"/>
<circle cx="102.9" cy="521.0" r="1.7" fill="#1d4a7e"/>
<circle cx="118.8" cy="537.5" r="1.7" fill="#1d4a7e"/>
<circle cx="133.2" cy="542.0" r="1.7" fill="#1d4a7e"/>
<circle cx="154.1" cy="546.6" r="1.7" fill="#1d4a7e"/>
<circle cx="86.5" cy="529.9" r="1.7" fill="#1d4a7e"/>
<circle cx="92.6" cy="524.2" r="1.7" fill="#1d4a7e"/>
<circle cx="116.0" cy="535.1" r="1.7" fill="#1d4a7e"/>
<circle cx="129.8" cy="519.1" r="1.7" fill="#1d4a7e"/>
<circle cx="88.3" cy="534.8" r="1.7" fill="#1d4a7e"/>
<circle cx="113.2" cy="531.9" r="1.7" fill="#1d4a7e"/>
<circle cx="116.5" cy="527.4" r="1.7" fill="#1d4a7e"/>
<circle cx="134.8" cy="538.5" r="1.7" fill="#1d4a7e"/>
<circle cx="115.9" cy="528.3" r="1.7" fill="#1d4a7e"/>
<circle cx="94.4" cy="535.4" r="1.7" fill="#1d4a7e"/>
<circle cx="81.9" cy="537.0" r="1.7" fill="#1d4a7e"/>
<circle cx="121.5" cy="521.2" r="1.7" fill="#1d4a7e"/>
<circle cx="112.0" cy="531.9" r="1.7" fill="#1d4a7e"/>
<circle cx="129.0" cy="541.1" r="1.7" fill="#1d4a7e"/>
<circle cx="117.1" cy="526.5" r="1.7" fill="#1d4a7e"/>
<circle cx="114.5" cy="534.3" r="1.7" fill="#1d4a7e"/>
<circle cx="135.6" cy="537.9" r="1.7" fill="#1d4a7e"/>
<circle cx="100.7" cy="521.5" r="1.7" fill="#1d4a7e"/>
<circle cx="109.0" cy="527.6" r="1.7" fill="#1d4a7e"/>
<circle cx="91.3" cy="533.8" r="1.7" fill="#1d4a7e"/>
<circle cx="106.2" cy="536.1" r="1.7" fill="#1d4a7e"/>
<circle cx="130.6" cy="530.9" r="1.7" fill="#1d4a7e"/>
<circle cx="144.4" cy="536.2" r="1.7" fill="#1d4a7e"/>
<circle cx="100.0" cy="537.5" r="1.7" fill="#1d4a7e"/>
<circle cx="125.7" cy="547.8" r="1.7" fill="#1d4a7e"/>
<circle cx="136.4" cy="544.5" r="1.7" fill="#1d4a7e"/>
<circle cx="130.2" cy="533.4" r="1.7" fill="#1d4a7e"/>
<circle cx="130.2" cy="524.2" r="1.7" fill="#1d4a7e"/>
<circle cx="146.4" cy="524.8" r="1.7" fill="#1d4a7e"/>
<circle cx="124.0" cy="556.2" r="1.7" fill="#1d4a7e"/>
<circle cx="112.6" cy="535.2" r="1.7" fill="#1d4a7e"/>
<circle cx="145.9" cy="535.3" r="1.7" fill="#1d4a7e"/>
<circle cx="98.6" cy="537.6" r="1.7" fill="#1d4a7e"/>
<circle cx="132.0" cy="542.1" r="1.7" fill="#1d4a7e"/>
<circle cx="99.5" cy="552.5" r="1.7" fill="#1d4a7e"/>
<circle cx="158.0" cy="535.2" r="1.7" fill="#1d4a7e"/>
<circle cx="124.4" cy="530.7" r="1.7" fill="#1d4a7e"/>
<circle cx="151.9" cy="528.0" r="1.7" fill="#1d4a7e"/>
<circle cx="134.2" cy="530.2" r="1.7" fill="#1d4a7e"/>
<circle cx="101.3" cy="542.2" r="1.7" fill="#1d4a7e"/>
<circle cx="150.0" cy="534.9" r="1.7" fill="#1d4a7e"/>
<circle cx="101.7" cy="543.1" r="1.7" fill="#1d4a7e"/>
<circle cx="116.8" cy="538.1" r="1.7" fill="#1d4a7e"/>
<circle cx="154.5" cy="546.3" r="1.7" fill="#1d4a7e"/>
<circle cx="105.5" cy="557.8" r="1.7" fill="#1d4a7e"/>
<circle cx="118.1" cy="542.9" r="1.7" fill="#1d4a7e"/>
<circle cx="102.5" cy="534.6" r="1.7" fill="#1d4a7e"/>
<circle cx="150.8" cy="522.8" r="1.7" fill="#1d4a7e"/>
<circle cx="81.9" cy="518.8" r="1.7" fill="#1d4a7e"/>
<circle cx="146.2" cy="530.4" r="1.7" fill="#1d4a7e"/>
<circle cx="116.5" cy="531.9" r="1.7" fill="#1d4a7e"/>
<circle cx="115.1" cy="524.1" r="1.7" fill="#1d4a7e"/>
<circle cx="118.6" cy="520.6" r="1.7" fill="#1d4a7e"/>
<circle cx="116.3" cy="538.1" r="1.7" fill="#1d4a7e"/>
<circle cx="129.2" cy="532.7" r="1.7" fill="#1d4a7e"/>
<circle cx="96.3" cy="536.6" r="1.7" fill="#1d4a7e"/>
<circle cx="106.4" cy="550.7" r="1.7" fill="#1d4a7e"/>
<circle cx="136.4" cy="533.8" r="1.7" fill="#1d4a7e"/>
<circle cx="106.7" cy="528.0" r="1.7" fill="#1d4a7e"/>
<circle cx="95.5" cy="531.5" r="1.7" fill="#1d4a7e"/>
<circle cx="125.1" cy="540.2" r="1.7" fill="#1d4a7e"/>
<circle cx="131.7" cy="556.0" r="1.7" fill="#1d4a7e"/>
<circle cx="101.1" cy="535.1" r="1.7" fill="#1d4a7e"/>
<circle cx="105.5" cy="536.7" r="1.7" fill="#1d4a7e"/>
<circle cx="121.7" cy="539.1" r="1.7" fill="#1d4a7e"/>
<circle cx="112.3" cy="538.7" r="1.7" fill="#1d4a7e"/>
<circle cx="119.3" cy="542.7" r="1.7" fill="#1d4a7e"/>
<circle cx="72.6" cy="526.1" r="1.7" fill="#1d4a7e"/>
<circle cx="117.9" cy="524.7" r="1.7" fill="#1d4a7e"/>
<circle cx="92.9" cy="541.3" r="1.7" fill="#1d4a7e"/>
<circle cx="102.4" cy="541.3" r="1.7" fill="#1d4a7e"/>
<circle cx="135.9" cy="538.1" r="1.7" fill="#1d4a7e"/>
<circle cx="130.2" cy="534.0" r="1.7" fill="#1d4a7e"/>
<circle cx="84.2" cy="534.7" r="1.7" fill="#1d4a7e"/>
<circle cx="128.9" cy="529.7" r="1.7" fill="#1d4a7e"/>
<circle cx="115.6" cy="542.5" r="1.7" fill="#1d4a7e"/>
<circle cx="96.9" cy="541.4" r="1.7" fill="#1d4a7e"/>
<circle cx="162.7" cy="529.5" r="1.7" fill="#1d4a7e"/>
<circle cx="121.5" cy="533.5" r="1.7" fill="#1d4a7e"/>
<circle cx="155.0" cy="538.2" r="1.7" fill="#1d4a7e"/>
<circle cx="139.5" cy="528.1" r="1.7" fill="#1d4a7e"/>
<circle cx="117.6" cy="534.9" r="1.7" fill="#1d4a7e"/>
<circle cx="139.6" cy="517.5" r="1.7" fill="#1d4a7e"/>
<circle cx="135.9" cy="533.7" r="1.7" fill="#1d4a7e"/>
<circle cx="128.8" cy="538.7" r="1.7" fill="#1d4a7e"/>
<circle cx="82.0" cy="532.9" r="1.7" fill="#1d4a7e"/>
<circle cx="137.9" cy="524.7" r="1.7" fill="#1d4a7e"/>
<circle cx="107.7" cy="521.6" r="1.7" fill="#1d4a7e"/>
<circle cx="105.3" cy="528.3" r="1.7" fill="#1d4a7e"/>
<circle cx="140.3" cy="528.7" r="1.7" fill="#1d4a7e"/>
<circle cx="122.9" cy="535.9" r="1.7" fill="#1d4a7e"/>
<circle cx="113.8" cy="524.3" r="1.7" fill="#1d4a7e"/>
<circle cx="126.3" cy="529.2" r="1.7" fill="#1d4a7e"/>
<circle cx="107.8" cy="522.3" r="1.7" fill="#1d4a7e"/>
<circle cx="123.5" cy="528.0" r="1.7" fill="#1d4a7e"/>
<circle cx="104.3" cy="526.2" r="1.7" fill="#1d4a7e"/>
<circle cx="113.5" cy="528.8" r="1.7" fill="#1d4a7e"/>
<circle cx="118.6" cy="526.7" r="1.7" fill="#1d4a7e"/>
<circle cx="115.8" cy="531.2" r="1.7" fill="#1d4a7e"/>
<circle cx="136.7" cy="525.5" r="1.7" fill="#1d4a7e"/>
<circle cx="130.2" cy="524.0" r="1.7" fill="#1d4a7e"/>
<circle cx="118.9" cy="548.0" r="1.7" fill="#1d4a7e"/>
<circle cx="136.2" cy="543.5" r="1.7" fill="#1d4a7e"/>
<circle cx="117.1" cy="545.8" r="1.7" fill="#1d4a7e"/>
<circle cx="100.0" cy="545.1" r="1.7" fill="#1d4a7e"/>
<circle cx="109.9" cy="546.5" r="1.7" fill="#1d4a7e"/>
<circle cx="118.5" cy="546.0" r="1.7" fill="#1d4a7e"/>
<circle cx="111.4" cy="548.6" r="1.7" fill="#1d4a7e"/>
<circle cx="114.7" cy="542.6" r="1.7" fill="#1d4a7e"/>
<circle cx="123.7" cy="538.7" r="1.7" fill="#1d4a7e"/>
<circle cx="109.9" cy="544.9" r="1.7" fill="#1d4a7e"/>
<circle cx="128.2" cy="544.3" r="1.7" fill="#1d4a7e"/>
<circle cx="121.7" cy="542.4" r="1.7" fill="#1d4a7e"/>
<path d="M57.0,536.2 L61.9,536.2 L66.8,536.1 L71.8,536.1 L76.7,536.1 L81.6,536.1 L86.5,536.1 L91.5,536.0 L96.4,536.0 L101.3,535.9 L106.2,535.8 L111.2,535.7 L116.1,535.6 L121.0,535.4 L126.0,535.2 L130.9,535.0 L135.8,534.7 L140.7,534.5 L145.7,534.2 L150.6,533.9 L155.5,533.6 L160.4,533.3 L165.3,533.0 L170.3,532.7 L175.2,532.4 L180.1,532.0 L185.1,531.7 L190.0,531.4 L194.9,531.1 L199.8,530.8 L204.8,530.4 L209.7,530.1 L214.6,529.8 L219.5,529.4 L224.4,529.1 L229.4,528.8 L234.3,528.5 L239.2,528.1 L244.2,527.8 L249.1,527.5 L254.0,527.1 L254.0,537.1 L249.1,537.1 L244.2,537.0 L239.2,537.0 L234.3,537.0 L229.4,537.0 L224.4,537.0 L219.5,537.0 L214.6,537.0 L209.7,537.0 L204.8,537.0 L199.8,537.0 L194.9,537.0 L190.0,537.0 L185.1,537.0 L180.1,537.0 L175.2,537.0 L170.3,537.0 L165.3,537.0 L160.4,537.0 L155.5,537.0 L150.6,537.0 L145.7,537.0 L140.7,537.1 L135.8,537.1 L130.9,537.2 L126.0,537.3 L121.0,537.4 L116.1,537.6 L111.2,537.8 L106.2,538.0 L101.3,538.2 L96.4,538.5 L91.5,538.7 L86.5,539.0 L81.6,539.3 L76.7,539.6 L71.8,539.9 L66.8,540.2 L61.9,540.5 L57.0,540.8Z" fill="#d0cdcd" stroke="#c4c0c0" stroke-width="0.5"/>
<line x1="57.0" y1="538.5" x2="254.0" y2="532.1" stroke="#a6636a" stroke-width="1"/>
<circle cx="309.0" cy="526.9" r="1.6" fill="#152848"/>
<circle cx="270.0" cy="537.5" r="1.6" fill="#152848"/>
<circle cx="281.3" cy="535.6" r="1.6" fill="#152848"/>
<circle cx="286.3" cy="534.4" r="1.6" fill="#152848"/>
<circle cx="284.4" cy="538.1" r="1.6" fill="#152848"/>
<circle cx="280.6" cy="540.6" r="1.6" fill="#152848"/>
<circle cx="281.3" cy="542.5" r="1.6" fill="#152848"/>
<circle cx="276.5" cy="542.3" r="1.6" fill="#152848"/>
<circle cx="297.5" cy="539.4" r="1.6" fill="#152848"/>
<circle cx="304.0" cy="534.4" r="1.6" fill="#152848"/>
<circle cx="306.9" cy="538.1" r="1.6" fill="#152848"/>
<circle cx="306.9" cy="541.3" r="1.6" fill="#152848"/>
<circle cx="301.9" cy="542.3" r="1.6" fill="#152848"/>
<circle cx="315.3" cy="536.0" r="1.6" fill="#152848"/>
<circle cx="318.1" cy="543.8" r="1.6" fill="#152848"/>
<circle cx="316.9" cy="545.0" r="1.6" fill="#152848"/>
<circle cx="272.5" cy="548.8" r="1.6" fill="#152848"/>
<circle cx="282.5" cy="546.9" r="1.6" fill="#152848"/>
<circle cx="285.0" cy="548.1" r="1.6" fill="#152848"/>
<circle cx="293.8" cy="546.3" r="1.6" fill="#152848"/>
<circle cx="295.6" cy="546.9" r="1.6" fill="#152848"/>
<circle cx="291.3" cy="548.8" r="1.6" fill="#152848"/>
<circle cx="302.5" cy="546.9" r="1.6" fill="#152848"/>
<circle cx="311.9" cy="548.8" r="1.6" fill="#152848"/>
<circle cx="322.5" cy="548.8" r="1.6" fill="#152848"/>
<circle cx="326.9" cy="548.8" r="1.6" fill="#152848"/>
<circle cx="276.9" cy="541.9" r="1.6" fill="#152848"/>
<circle cx="281.3" cy="541.9" r="1.6" fill="#152848"/>
<circle cx="271.9" cy="548.8" r="1.6" fill="#152848"/>
<circle cx="270.0" cy="551.3" r="1.6" fill="#152848"/>
<circle cx="274.4" cy="552.5" r="1.6" fill="#152848"/>
<circle cx="282.5" cy="547.5" r="1.6" fill="#152848"/>
<circle cx="283.8" cy="549.4" r="1.6" fill="#152848"/>
<circle cx="285.0" cy="551.9" r="1.6" fill="#152848"/>
<circle cx="287.5" cy="550.6" r="1.6" fill="#152848"/>
<circle cx="286.3" cy="553.1" r="1.6" fill="#152848"/>
<circle cx="291.3" cy="548.1" r="1.6" fill="#152848"/>
<circle cx="293.1" cy="550.6" r="1.6" fill="#152848"/>
<circle cx="295.0" cy="546.3" r="1.6" fill="#152848"/>
<circle cx="296.9" cy="546.9" r="1.6" fill="#152848"/>
<circle cx="295.0" cy="552.5" r="1.6" fill="#152848"/>
<circle cx="297.5" cy="552.5" r="1.6" fill="#152848"/>
<circle cx="300.0" cy="551.9" r="1.6" fill="#152848"/>
<circle cx="302.5" cy="550.6" r="1.6" fill="#152848"/>
<circle cx="301.9" cy="542.5" r="1.6" fill="#152848"/>
<circle cx="306.3" cy="541.9" r="1.6" fill="#152848"/>
<circle cx="303.1" cy="547.5" r="1.6" fill="#152848"/>
<circle cx="305.6" cy="551.9" r="1.6" fill="#152848"/>
<circle cx="303.8" cy="553.8" r="1.6" fill="#152848"/>
<circle cx="311.9" cy="548.8" r="1.6" fill="#152848"/>
<circle cx="317.5" cy="544.4" r="1.6" fill="#152848"/>
<circle cx="318.8" cy="543.1" r="1.6" fill="#152848"/>
<circle cx="316.3" cy="552.5" r="1.6" fill="#152848"/>
<circle cx="313.8" cy="553.8" r="1.6" fill="#152848"/>
<circle cx="321.9" cy="552.5" r="1.6" fill="#152848"/>
<circle cx="323.1" cy="548.8" r="1.6" fill="#152848"/>
<circle cx="326.3" cy="550.0" r="1.6" fill="#152848"/>
<circle cx="283.1" cy="562.5" r="1.6" fill="#152848"/>
<circle cx="288.1" cy="562.5" r="1.6" fill="#152848"/>
<circle cx="289.4" cy="565.0" r="1.6" fill="#152848"/>
<circle cx="291.3" cy="564.4" r="1.6" fill="#152848"/>
<circle cx="287.5" cy="568.1" r="1.6" fill="#152848"/>
<circle cx="280.0" cy="567.5" r="1.6" fill="#152848"/>
<circle cx="281.3" cy="569.4" r="1.6" fill="#152848"/>
<circle cx="283.1" cy="571.3" r="1.6" fill="#152848"/>
<circle cx="285.0" cy="573.1" r="1.6" fill="#152848"/>
<circle cx="295.6" cy="561.9" r="1.6" fill="#152848"/>
<circle cx="298.1" cy="563.1" r="1.6" fill="#152848"/>
<circle cx="300.0" cy="565.0" r="1.6" fill="#152848"/>
<circle cx="299.4" cy="566.9" r="1.6" fill="#152848"/>
<circle cx="301.3" cy="568.1" r="1.6" fill="#152848"/>
<circle cx="305.0" cy="561.9" r="1.6" fill="#152848"/>
<circle cx="308.1" cy="561.9" r="1.6" fill="#152848"/>
<circle cx="310.6" cy="562.5" r="1.6" fill="#152848"/>
<circle cx="308.1" cy="569.4" r="1.6" fill="#152848"/>
<circle cx="308.8" cy="567.5" r="1.6" fill="#152848"/>
<circle cx="302.5" cy="571.3" r="1.6" fill="#152848"/>
<circle cx="301.3" cy="573.8" r="1.6" fill="#152848"/>
<circle cx="300.6" cy="575.6" r="1.6" fill="#152848"/>
<circle cx="306.9" cy="576.9" r="1.6" fill="#152848"/>
<circle cx="318.8" cy="562.5" r="1.6" fill="#152848"/>
<circle cx="321.3" cy="561.3" r="1.6" fill="#152848"/>
<circle cx="323.8" cy="561.9" r="1.6" fill="#152848"/>
<circle cx="326.3" cy="563.1" r="1.6" fill="#152848"/>
<circle cx="320.0" cy="565.6" r="1.6" fill="#152848"/>
<circle cx="322.5" cy="566.3" r="1.6" fill="#152848"/>
<circle cx="325.0" cy="565.0" r="1.6" fill="#152848"/>
<circle cx="328.1" cy="564.4" r="1.6" fill="#152848"/>
<circle cx="330.0" cy="563.8" r="1.6" fill="#152848"/>
<circle cx="320.6" cy="570.0" r="1.6" fill="#152848"/>
<circle cx="319.4" cy="577.5" r="1.6" fill="#152848"/>
<circle cx="320.0" cy="580.0" r="1.6" fill="#152848"/>
<circle cx="288.1" cy="581.3" r="1.6" fill="#152848"/>
<circle cx="292.5" cy="581.9" r="1.6" fill="#152848"/>
<circle cx="295.0" cy="579.4" r="1.6" fill="#152848"/>
<circle cx="325.0" cy="583.8" r="1.6" fill="#152848"/>
<circle cx="331.1" cy="526.9" r="1.6" fill="#152848"/>
<circle cx="333.0" cy="536.9" r="1.6" fill="#152848"/>
<circle cx="335.5" cy="537.5" r="1.6" fill="#152848"/>
<circle cx="339.0" cy="536.3" r="1.6" fill="#152848"/>
<circle cx="349.0" cy="533.8" r="1.6" fill="#152848"/>
<circle cx="355.5" cy="531.9" r="1.6" fill="#152848"/>
<circle cx="349.3" cy="542.5" r="1.6" fill="#152848"/>
<circle cx="338.0" cy="545.6" r="1.6" fill="#152848"/>
<circle cx="340.5" cy="545.0" r="1.6" fill="#152848"/>
<circle cx="339.9" cy="549.4" r="1.6" fill="#152848"/>
<circle cx="331.1" cy="552.5" r="1.6" fill="#152848"/>
<circle cx="334.9" cy="553.1" r="1.6" fill="#152848"/>
<circle cx="337.4" cy="552.8" r="1.6" fill="#152848"/>
<circle cx="350.3" cy="552.5" r="1.6" fill="#152848"/>
<circle cx="357.0" cy="552.3" r="1.6" fill="#152848"/>
<circle cx="368.0" cy="548.8" r="1.6" fill="#152848"/>
<circle cx="372.4" cy="545.6" r="1.6" fill="#152848"/>
<circle cx="379.3" cy="548.8" r="1.6" fill="#152848"/>
<circle cx="389.3" cy="540.6" r="1.6" fill="#152848"/>
<circle cx="329.9" cy="562.5" r="1.6" fill="#152848"/>
<circle cx="334.9" cy="561.3" r="1.6" fill="#152848"/>
<circle cx="338.0" cy="562.5" r="1.6" fill="#152848"/>
<circle cx="339.3" cy="563.8" r="1.6" fill="#152848"/>
<circle cx="349.9" cy="563.8" r="1.6" fill="#152848"/>
<circle cx="360.3" cy="561.3" r="1.6" fill="#152848"/>
<circle cx="371.1" cy="560.6" r="1.6" fill="#152848"/>
<circle cx="371.1" cy="563.1" r="1.6" fill="#152848"/>
<circle cx="383.6" cy="564.4" r="1.6" fill="#152848"/>
<circle cx="329.5" cy="568.1" r="1.6" fill="#152848"/>
<circle cx="333.6" cy="569.0" r="1.6" fill="#152848"/>
<circle cx="346.1" cy="566.3" r="1.6" fill="#152848"/>
<circle cx="344.9" cy="571.5" r="1.6" fill="#152848"/>
<circle cx="337.4" cy="574.4" r="1.6" fill="#152848"/>
<circle cx="339.9" cy="574.4" r="1.6" fill="#152848"/>
<circle cx="342.0" cy="575.6" r="1.6" fill="#152848"/>
<circle cx="354.3" cy="568.1" r="1.6" fill="#152848"/>
<circle cx="356.1" cy="566.9" r="1.6" fill="#152848"/>
<circle cx="358.6" cy="569.4" r="1.6" fill="#152848"/>
<circle cx="366.5" cy="570.3" r="1.6" fill="#152848"/>
<circle cx="362.0" cy="578.1" r="1.6" fill="#152848"/>
<circle cx="359.0" cy="584.4" r="1.6" fill="#152848"/>
<circle cx="383.6" cy="564.8" r="1.6" fill="#152848"/>
<circle cx="380.5" cy="575.6" r="1.6" fill="#152848"/>
<circle cx="313.1" cy="587.3" r="1.6" fill="#152848"/>
<circle cx="319.0" cy="587.3" r="1.6" fill="#152848"/>
<circle cx="325.3" cy="584.4" r="1.6" fill="#152848"/>
<circle cx="315.3" cy="601.0" r="1.6" fill="#152848"/>
<circle cx="399.5" cy="526.6" r="1.6" fill="#152848"/>
<circle cx="451.2" cy="534.5" r="1.6" fill="#152848"/>
<circle cx="390.0" cy="540.5" r="1.6" fill="#152848"/>
<circle cx="398.7" cy="540.2" r="1.6" fill="#152848"/>
<circle cx="401.8" cy="538.6" r="1.6" fill="#152848"/>
<circle cx="410.2" cy="538.6" r="1.6" fill="#152848"/>
<circle cx="397.6" cy="547.6" r="1.6" fill="#152848"/>
<circle cx="419.2" cy="547.6" r="1.6" fill="#152848"/>
<circle cx="423.9" cy="548.7" r="1.6" fill="#152848"/>
<circle cx="401.8" cy="559.4" r="1.6" fill="#152848"/>
<circle cx="420.0" cy="569.2" r="1.6" fill="#152848"/>
<circle cx="397.9" cy="574.4" r="1.6" fill="#152848"/>
<path d="M270.0,555.4 L274.5,555.5 L279.1,555.5 L283.6,555.5 L288.1,555.5 L292.7,555.5 L297.2,555.5 L301.8,555.5 L306.3,555.5 L310.8,555.4 L315.4,555.3 L319.9,555.2 L324.4,555.0 L329.0,554.9 L333.5,554.7 L338.1,554.5 L342.6,554.3 L347.1,554.0 L351.7,553.8 L356.2,553.5 L360.8,553.3 L365.3,553.0 L369.8,552.7 L374.4,552.4 L378.9,552.2 L383.4,551.9 L388.0,551.6 L392.5,551.3 L397.1,551.0 L401.6,550.7 L406.1,550.4 L410.7,550.1 L415.2,549.8 L419.7,549.5 L424.3,549.2 L428.8,548.9 L433.4,548.6 L437.9,548.3 L442.4,548.0 L447.0,547.7 L451.5,547.4 L451.5,559.8 L447.0,559.8 L442.4,559.7 L437.9,559.6 L433.4,559.5 L428.8,559.4 L424.3,559.4 L419.7,559.3 L415.2,559.2 L410.7,559.1 L406.1,559.1 L401.6,559.0 L397.1,558.9 L392.5,558.8 L388.0,558.8 L383.4,558.7 L378.9,558.6 L374.4,558.6 L369.8,558.5 L365.3,558.5 L360.8,558.4 L356.2,558.4 L351.7,558.4 L347.1,558.3 L342.6,558.3 L338.1,558.3 L333.5,558.4 L329.0,558.4 L324.4,558.5 L319.9,558.5 L315.4,558.6 L310.8,558.8 L306.3,558.9 L301.8,559.1 L297.2,559.3 L292.7,559.5 L288.1,559.8 L283.6,560.0 L279.1,560.3 L274.5,560.5 L270.0,560.8Z" fill="#d0cdcd" stroke="#c4c0c0" stroke-width="0.5"/>
<line x1="270.0" y1="558.1" x2="451.5" y2="553.6" stroke="#a6636a" stroke-width="1"/>
</svg></body></html>
